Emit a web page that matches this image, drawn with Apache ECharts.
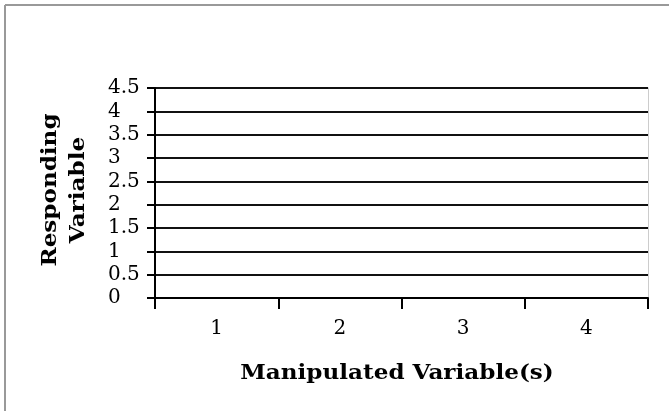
<!DOCTYPE html>
<html>
<head>
<meta charset="utf-8">
<script src="https://cdn.jsdelivr.net/npm/echarts@6/dist/echarts.min.js"></script>
<style>
html,body{margin:0;padding:0;background:#fff;}
#c{width:669px;height:411px;}
</style>
</head>
<body>
<div id="c"></div>
<script>
var categories = ['1', '2', '3', '4'];
var seriesValues = [];
var yMin = 0, yMax = 4.5, yStep = 0.5;
var xTitle = 'Manipulated Variable(s)';
var yTitle = 'Responding\nVariable';

var chart = echarts.init(document.getElementById('c'));
var font = 'DejaVu Serif';
chart.setOption({
  animation: false,
  backgroundColor: '#fff',
  grid: {left: 155, right: 21, top: 88, bottom: 113},
  xAxis: {
    type: 'category',
    data: categories,
    boundaryGap: true,
    axisLine: {show: true, lineStyle: {color: '#000', width: 2}},
    axisTick: {show: true, length: 11, lineStyle: {color: '#000', width: 2}},
    axisLabel: {color: '#000', fontFamily: font, fontSize: 20, margin: 21},
    splitLine: {show: false}
  },
  yAxis: [{
    type: 'value',
    min: yMin, max: yMax, interval: yStep,
    axisLine: {show: true, lineStyle: {color: '#000', width: 2}},
    axisTick: {show: true, length: 8, lineStyle: {color: '#000', width: 2}},
    axisLabel: {color: '#000', fontFamily: font, fontSize: 20, align: 'left', margin: 47},
    splitLine: {show: true, lineStyle: {color: '#111', width: 2}}
  }, {
    type: 'value',
    position: 'right',
    min: yMin, max: yMax, interval: yStep,
    axisLine: {show: true, lineStyle: {color: '#ccc', width: 1}},
    axisTick: {show: false},
    axisLabel: {show: false},
    splitLine: {show: false}
  }],
  graphic: [
    {type: 'line', shape: {x1: 5, y1: 5, x2: 669, y2: 5}, style: {stroke: '#999', lineWidth: 2}},
    {type: 'line', shape: {x1: 5, y1: 5, x2: 5, y2: 411}, style: {stroke: '#999', lineWidth: 2}},
    {type: 'text', x: 65, y: 190, rotation: Math.PI / 2, scaleX: 1.1,
     style: {text: yTitle, fill: '#000', font: 'bold 21px "DejaVu Serif"', textAlign: 'center', textVerticalAlign: 'middle', lineHeight: 28}},
    {type: 'text', x: 397, y: 374, scaleX: 1.1,
     style: {text: xTitle, fill: '#000', font: 'bold 21px "DejaVu Serif"', textAlign: 'center', textVerticalAlign: 'middle'}}
  ],
  series: [{type: 'line', data: seriesValues}]
});
</script>
</body>
</html>
